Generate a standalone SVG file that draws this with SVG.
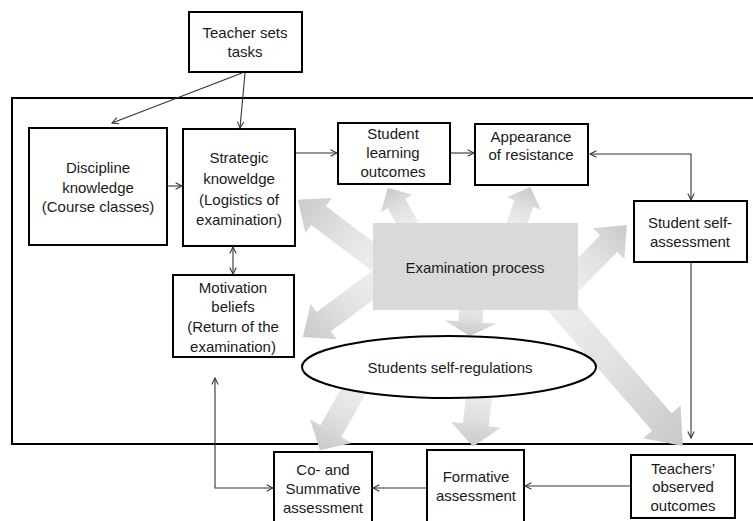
<svg xmlns="http://www.w3.org/2000/svg" width="753" height="521" viewBox="0 0 753 521">
<style>
.box{fill:#fff;stroke:#000;stroke-width:2}
.t{font-family:"Liberation Sans",Arial,sans-serif;font-size:15px;fill:#1a1a1a;text-anchor:middle}
.c{fill:none;stroke:#333;stroke-width:1.1}
.big{fill:url(#g);stroke:none}
</style>
<defs>
<linearGradient id="g" x1="0" y1="0" x2="1" y2="0">
<stop offset="0" stop-color="#eeeeee"/>
<stop offset="0.45" stop-color="#e2e2e2"/>
<stop offset="1" stop-color="#c9c9c9"/>
</linearGradient>
<marker id="ah" viewBox="0 0 10 10" refX="9" refY="5" markerWidth="8" markerHeight="8" markerUnits="userSpaceOnUse" orient="auto-start-reverse">
<path d="M1,1 L9,5 L1,9" fill="none" stroke="#333" stroke-width="1.3"/>
</marker>
</defs>
<rect id="frame" x="12" y="98" width="760" height="346" fill="none" stroke="#000" stroke-width="2"/>
<g id="big-arrows">
<polygon class="big" transform="translate(380,262) rotate(-142.9)" points="0,-12 77,-12 77,-22 103,0 77,22 77,12 0,12"/>
<polygon class="big" transform="translate(380,280) rotate(143.5)" points="0,-12 70,-12 70,-22 96,0 70,22 70,12 0,12"/>
<polygon class="big" transform="translate(410,228) rotate(-118.8)" points="0,-10 28,-10 28,-18 46,0 28,18 28,10 0,10"/>
<polygon class="big" transform="translate(515,228) rotate(-69.9)" points="0,-10 26,-10 26,-18 44,0 26,18 26,10 0,10"/>
<polygon class="big" transform="translate(568,285) rotate(-45.5)" points="0,-12 58,-12 58,-22 84,0 58,22 58,12 0,12"/>
<polygon class="big" transform="translate(472,300) rotate(94)" points="0,-12 22,-12 22,-26 36,0 22,26 22,12 0,12"/>
<polygon class="big" transform="translate(552,296) rotate(48.9)" points="0,-13 167,-13 167,-25 199,0 167,25 167,13 0,13"/>
<polygon class="big" transform="translate(357,385) rotate(119.6)" points="0,-12 53,-12 53,-24 75,0 53,24 53,12 0,12"/>
<polygon class="big" transform="translate(480,390) rotate(97)" points="0,-13 35,-13 35,-25 57,0 35,25 35,13 0,13"/>
</g>
<g id="exam">
<rect x="373" y="223" width="205" height="87" fill="#d9d9d9"/>
<text class="t" x="475" y="273">Examination process</text>
</g>
<g id="selfreg">
<ellipse cx="449" cy="367" rx="147" ry="31" fill="#fff" stroke="#000" stroke-width="2"/>
<text class="t" x="450" y="373">Students self-regulations</text>
</g>
<g id="teacher">
<rect class="box" x="189" y="12" width="113" height="60"/>
<text class="t" x="245" y="38">Teacher sets</text>
<text class="t" x="245" y="57">tasks</text>
</g>
<g id="discipline">
<rect class="box" x="29" y="128" width="138" height="117"/>
<text class="t" x="98" y="173">Discipline</text>
<text class="t" x="98" y="193">knowledge</text>
<text class="t" x="98" y="212">(Course classes)</text>
</g>
<g id="strategic">
<rect class="box" x="183" y="129" width="112" height="117"/>
<text class="t" x="239" y="163">Strategic</text>
<text class="t" x="239" y="184">knoweldge</text>
<text class="t" x="239" y="205">(Logistics of</text>
<text class="t" x="239" y="225">examination)</text>
</g>
<g id="slo">
<rect class="box" x="338" y="123" width="112" height="61"/>
<text class="t" x="393" y="139">Student</text>
<text class="t" x="393" y="158">learning</text>
<text class="t" x="393" y="177">outcomes</text>
</g>
<g id="appearance">
<rect class="box" x="475" y="124" width="113" height="61"/>
<text class="t" x="531" y="142">Appearance</text>
<text class="t" x="531" y="160">of resistance</text>
</g>
<g id="selfassess">
<rect class="box" x="634" y="201" width="113" height="61"/>
<text class="t" x="690" y="228">Student self-</text>
<text class="t" x="690" y="247">assessment</text>
</g>
<g id="motivation">
<rect class="box" x="173" y="275" width="121" height="82"/>
<text class="t" x="233" y="293">Motivation</text>
<text class="t" x="233" y="312">beliefs</text>
<text class="t" x="233" y="332">(Return of the</text>
<text class="t" x="233" y="352">examination)</text>
</g>
<g id="cosum">
<rect class="box" x="274" y="452" width="98" height="72"/>
<text class="t" x="323" y="475">Co- and</text>
<text class="t" x="323" y="494">Summative</text>
<text class="t" x="323" y="513">assessment</text>
</g>
<g id="formative">
<rect class="box" x="427" y="450" width="97" height="74"/>
<text class="t" x="476" y="482">Formative</text>
<text class="t" x="476" y="501">assessment</text>
</g>
<g id="teachers-obs">
<rect class="box" x="631" y="455" width="104" height="63"/>
<text class="t" x="683" y="474">Teachers’</text>
<text class="t" x="683" y="492">observed</text>
<text class="t" x="683" y="511">outcomes</text>
</g>
<g id="connectors">
<line class="c" x1="242" y1="73" x2="112" y2="123" marker-end="url(#ah)"/>
<line class="c" x1="245" y1="73" x2="240" y2="128" marker-end="url(#ah)"/>
<line class="c" x1="167" y1="186" x2="182" y2="186" marker-end="url(#ah)"/>
<line class="c" x1="296" y1="153" x2="337" y2="153" marker-end="url(#ah)"/>
<line class="c" x1="451" y1="153" x2="474" y2="153" marker-end="url(#ah)"/>
<path class="c" d="M590,154 H691 V200" marker-start="url(#ah)" marker-end="url(#ah)"/>
<line class="c" x1="691" y1="263" x2="691" y2="438" marker-end="url(#ah)"/>
<line class="c" x1="233" y1="247" x2="233" y2="274" marker-start="url(#ah)" marker-end="url(#ah)"/>
<path class="c" d="M215,378 V488 H273" marker-start="url(#ah)" marker-end="url(#ah)"/>
<line class="c" x1="630" y1="486" x2="525" y2="486" marker-end="url(#ah)"/>
<line class="c" x1="426" y1="488" x2="373" y2="488" marker-end="url(#ah)"/>
</g>
</svg>
